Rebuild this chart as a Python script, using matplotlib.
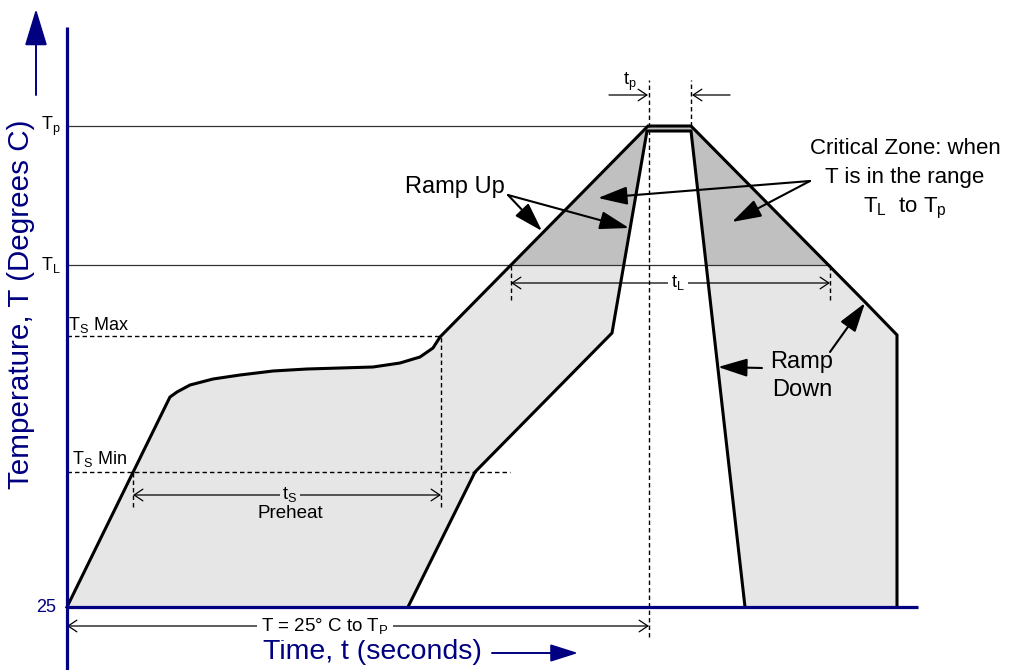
import matplotlib
matplotlib.use('Agg')
import matplotlib.pyplot as plt
from matplotlib.patches import Polygon, Rectangle

plt.rcParams['font.family'] = ['Liberation Sans', 'DejaVu Sans']
plt.rcParams['mathtext.fontset'] = 'custom'
plt.rcParams['mathtext.rm'] = 'Liberation Sans'
plt.rcParams['mathtext.it'] = 'Liberation Sans:italic'

# ---- profile levels (temperature units of the diagram) ----
T_AMB, TS_MIN, TS_MAX, T_L, T_P = 0, 135, 271, 342, 481
# ---- key times ----
t_ts_start, t_ts_end = 66, 374
t_L_start, t_L_end = 444, 763
t_p_start, t_p_end = 582, 624
t_end = 851

# outer (upper / left) limit of the reflow window
outer_time = [0, 100, 103, 110, 123, 146, 173, 206, 240, 273, 306, 333, 353, 366, 373,
              581, 624, 798, 830, 830]
outer_temp = [0, 204, 210, 215, 222, 228, 232, 236, 238, 239, 240, 244, 250, 259, 270,
              481, 481, 305, 272, 0]
# inner (lower / right) limit of the reflow window
inner_time = [341, 408, 545, 580, 624, 678]
inner_temp = [0, 135, 274, 476, 476, 0]

NAVY = '#000080'
LIGHT = '#e6e6e6'
DARK = '#c0c0c0'

fig = plt.figure(figsize=(10.13, 6.70), dpi=100)
ax = fig.add_axes([0, 0, 1, 1])
ax.set_xlim(-67, 946)
ax.set_ylim(-63, 607)
ax.axis('off')

pts = list(zip(outer_time, outer_temp)) + list(zip(inner_time, inner_temp))[::-1]
ax.add_patch(Polygon(pts, closed=True, facecolor=LIGHT, edgecolor='none', zorder=1))
dark = Polygon(pts, closed=True, facecolor=DARK, edgecolor='none', zorder=1.1)
ax.add_patch(dark)
clip = Rectangle((-100, T_L), 1200, 400, transform=ax.transData)
dark.set_clip_path(clip)

# reference lines
ax.plot([0, t_p_start - 1], [T_P, T_P], color='#333333', lw=0.9, zorder=2)
ax.plot([0, t_L_end], [T_L, T_L], color='#333333', lw=0.9, zorder=2)
dash = (0, (3.2, 2.2))
ax.plot([0, t_ts_end], [TS_MAX, TS_MAX], color='black', lw=1.0, ls=dash, zorder=2)
ax.plot([0, 443], [TS_MIN, TS_MIN], color='black', lw=1.0, ls=dash, zorder=2)

# vertical dashed markers
ax.plot([t_p_start, t_p_start], [-30, 527], color='black', lw=1.0, ls=dash, zorder=3.5)
ax.plot([t_p_end, t_p_end], [T_P, 527], color='black', lw=1.0, ls=dash, zorder=3.5)
ax.plot([t_ts_end, t_ts_end], [100, TS_MAX], color='black', lw=1.0, ls=dash, zorder=3.5)
ax.plot([t_ts_start, t_ts_start], [100, TS_MIN], color='black', lw=1.0, ls=dash, zorder=3.5)
ax.plot([t_L_start, t_L_start], [307, T_L], color='black', lw=1.0, ls=dash, zorder=3.5)
ax.plot([t_L_end, t_L_end], [307, T_L], color='black', lw=1.0, ls=dash, zorder=3.5)

# profile outlines
ax.plot(outer_time, outer_temp, color='black', lw=2.2, zorder=3, solid_joinstyle='miter')
ax.plot(inner_time, inner_temp, color='black', lw=2.2, zorder=3, solid_joinstyle='miter')

# axes
ax.plot([0, 0], [-63, 580], color=NAVY, lw=2.3, zorder=4, solid_capstyle='butt')
ax.plot([0, t_end], [0, 0], color=NAVY, lw=2.3, zorder=4, solid_capstyle='butt')

# axis titles with arrows
ax.text(-46, 303, 'Temperature, T (Degrees C)', rotation=90, color=NAVY, fontsize=21.3,
        ha='center', va='center')
ax.annotate('', xy=(-31, 598), xytext=(-31, 512),
            arrowprops=dict(arrowstyle='-|>,head_length=1.15,head_width=0.35', color=NAVY,
                            lw=1.4, mutation_scale=20, shrinkA=0, shrinkB=0))
ax.text(305, -45, 'Time, t (seconds)', color=NAVY, fontsize=20.5, ha='center', va='center')
ax.annotate('', xy=(511, -46), xytext=(425, -46),
            arrowprops=dict(arrowstyle='-|>,head_length=0.85,head_width=0.27', color=NAVY,
                            lw=1.4, mutation_scale=20, shrinkA=0, shrinkB=0))

# level labels
ax.text(-11, 0, '25', color=NAVY, fontsize=13, ha='right', va='center')
ax.text(-6, T_P, r'T$_\mathrm{p}$', fontsize=13, ha='right', va='center')
ax.text(-6, T_L, r'T$_\mathrm{L}$', fontsize=13, ha='right', va='center')
ax.text(1, 282, r'T$_\mathrm{S}$ Max', fontsize=13, ha='left', va='center')
ax.text(5, 148, r'T$_\mathrm{S}$ Min', fontsize=13, ha='left', va='center')

# dimension arrows
dim = dict(arrowstyle='<->,head_length=0.45,head_width=0.3', color='black', lw=0.9,
           mutation_scale=14, shrinkA=0, shrinkB=0)
ax.annotate('', xy=(t_ts_start, 112), xytext=(t_ts_end, 112), arrowprops=dim, zorder=3.6)
ax.text(223, 112, r't$_\mathrm{S}$', fontsize=13, ha='center', va='center',
        bbox=dict(facecolor=LIGHT, edgecolor='none', pad=1.5), zorder=3.7)
ax.text(223, 93, 'Preheat', fontsize=13.5, ha='center', va='center', zorder=3.7)

ax.annotate('', xy=(t_L_start, 324), xytext=(t_L_end, 324), arrowprops=dim, zorder=3.6)
ax.text(611, 324, r't$_\mathrm{L}$', fontsize=13, ha='center', va='center',
        bbox=dict(facecolor='white', edgecolor='none', pad=2.5), zorder=3.7)

ax.annotate('', xy=(0, -19), xytext=(t_p_start, -19), arrowprops=dim, zorder=3.6)
ax.text(258, -19, r'T = 25° C to T$_\mathrm{P}$', fontsize=13.5, ha='center', va='center',
        bbox=dict(facecolor='white', edgecolor='none', pad=3), zorder=3.7)

one = dict(arrowstyle='->,head_length=0.45,head_width=0.3', color='black', lw=0.9,
           mutation_scale=14, shrinkA=0, shrinkB=0)
ax.annotate('', xy=(t_p_start - 1, 512), xytext=(542, 512), arrowprops=one)
ax.annotate('', xy=(t_p_end + 1, 512), xytext=(663, 512), arrowprops=one)
ax.text(563, 525, r't$_\mathrm{p}$', fontsize=13, ha='center', va='center')

# callouts
fill_arrow = dict(arrowstyle='-|>,head_length=0.9,head_width=0.28', color='black', lw=1.5,
                  mutation_scale=20, shrinkA=0, shrinkB=0)
ax.text(388, 420, 'Ramp Up', fontsize=17, ha='center', va='center')
ax.annotate('', xy=(475, 376), xytext=(441, 412), arrowprops=fill_arrow, zorder=5)
ax.annotate('', xy=(562, 379), xytext=(441, 412), arrowprops=fill_arrow, zorder=5)

ax.text(838, 459, 'Critical Zone: when', fontsize=16, ha='center', va='center')
ax.text(838, 429, 'T is in the range', fontsize=16, ha='center', va='center')
ax.text(838, 399, r'T$_\mathrm{L}$  to T$_\mathrm{p}$', fontsize=16, ha='center', va='center')
ax.annotate('', xy=(531, 409), xytext=(743, 426), arrowprops=fill_arrow, zorder=5)
ax.annotate('', xy=(665, 385), xytext=(743, 426), arrowprops=fill_arrow, zorder=5)

ax.text(735, 245, 'Ramp', fontsize=17, ha='center', va='center')
ax.text(735, 217, 'Down', fontsize=17, ha='center', va='center')
ax.annotate('', xy=(651, 240), xytext=(695, 239), arrowprops=fill_arrow, zorder=5)
ax.annotate('', xy=(798, 304), xytext=(763, 255), arrowprops=fill_arrow, zorder=5)

fig.savefig('out.png', dpi=100, facecolor='white')
